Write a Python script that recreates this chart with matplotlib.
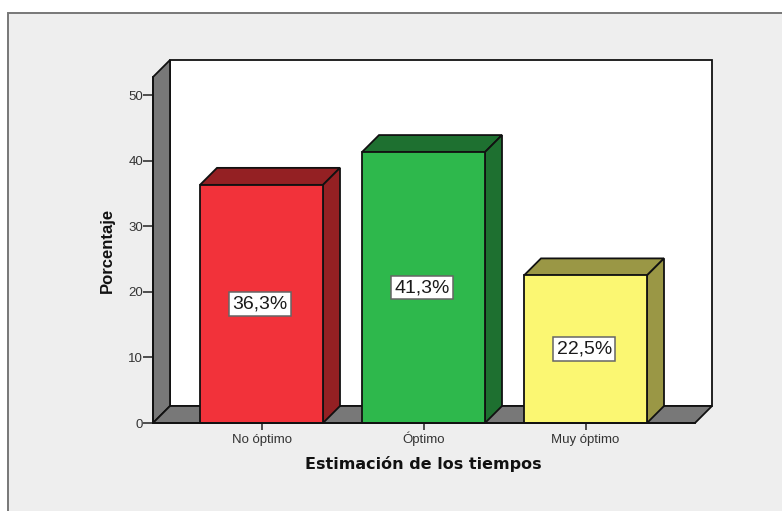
#!/usr/bin/env python3
# -*- coding: utf-8 -*-
import matplotlib
matplotlib.use("Agg")
import matplotlib.pyplot as plt
from matplotlib.patches import Polygon, Rectangle

categorias = ["No óptimo", "Óptimo", "Muy óptimo"]
porcentajes = [36.3, 41.3, 22.5]
etiquetas = ["36,3%", "41,3%", "22,5%"]
y_ticks = [0, 10, 20, 30, 40, 50]

col_front = ["#f2323a", "#2eb84c", "#fbf772"]
col_dark = ["#942023", "#1e7030", "#9a9745"]
GRIS = "#787878"
FONDO = "#eeeeee"
INK = "#1a1a1a"

W, H = 782, 511
plt.rcParams["font.family"] = ["Liberation Sans", "DejaVu Sans"]

fig = plt.figure(figsize=(W / 100, H / 100), dpi=100, facecolor="white")
# cadre gris du fond
fig.add_artist(Rectangle((8 / W, -0.02), 1.0, (H - 13) / H + 0.02, transform=fig.transFigure,
                         facecolor=FONDO, edgecolor="#777777", lw=1.4, zorder=-1))

# plan avant : x 153-695 px, y 423-77 px
x0, x1, y0, y1 = 153, 695, 423, 77
ax = fig.add_axes([x0 / W, (H - y0) / H, (x1 - x0) / W, (y0 - y1) / H])
ax.patch.set_visible(False)

PX_X, PX_Y = 162.0, 6.56         # px par unite
ax.set_xlim((x0 - 261.5) / PX_X, (x1 - 261.5) / PX_X)
ax.set_ylim(0, (y0 - y1) / PX_Y)
xl, xr = ax.get_xlim()
yt = ax.get_ylim()[1]
dx, dy = 17 / PX_X, 17 / PX_Y    # profondeur 3D
larg = 123 / PX_X


def poly(pts, color, z):
    ax.add_patch(Polygon(pts, closed=True, facecolor=color, edgecolor="#111111", lw=1.3,
                         joinstyle="miter", clip_on=False, zorder=z))


poly([(xl + dx, dy), (xr + dx, dy), (xr + dx, yt + dy), (xl + dx, yt + dy)], "white", 1)
poly([(xl, 0), (xl + dx, dy), (xl + dx, yt + dy), (xl, yt)], GRIS, 1.1)
poly([(xl, 0), (xr, 0), (xr + dx, dy), (xl + dx, dy)], GRIS, 1.1)

pos = range(len(categorias))
ax.bar(pos, porcentajes, width=larg, color=col_front, edgecolor="#111111", linewidth=1.3,
       zorder=3, clip_on=False)
for i, v in zip(pos, porcentajes):
    a, b = i - larg / 2, i + larg / 2
    poly([(a, v), (b, v), (b + dx, v + dy), (a + dx, v + dy)], col_dark[i], 2.5)
    poly([(b, 0), (b + dx, dy), (b + dx, v + dy), (b, v)], col_dark[i], 2.5)
    ax.text(i - 0.008, v / 2, etiquetas[i], ha="center", va="center", fontsize=14, color=INK,
            zorder=5, bbox=dict(boxstyle="square,pad=0.17", facecolor="white",
                                edgecolor="#666666", lw=1.1))

ax.set_yticks(y_ticks)
ax.set_xticks(list(pos))
ax.set_xticklabels(categorias, va="baseline")
ax.tick_params(axis="y", length=7, width=1.1, color="#222222", labelsize=9.5, labelcolor="#333333", pad=0)
ax.tick_params(axis="x", length=5, width=1.1, color="#222222", labelsize=9.5, labelcolor="#333333", pad=9.5)
for s in ("top", "right"):
    ax.spines[s].set_visible(False)
for s in ("left", "bottom"):
    ax.spines[s].set_linewidth(1.3)
    ax.spines[s].set_color("#111111")
    ax.spines[s].set_zorder(4)

fig.text(423 / W, 1 - 464 / H, "Estimación de los tiempos", ha="center", va="center",
         fontsize=11.5, fontweight="bold", family="DejaVu Sans", color="#111111")
fig.text(107 / W, 1 - 250 / H, "Porcentaje", ha="center", va="center", rotation=90,
         fontsize=12, fontweight="bold", color="#111111")

fig.savefig("out.png", dpi=100, facecolor=fig.get_facecolor())
